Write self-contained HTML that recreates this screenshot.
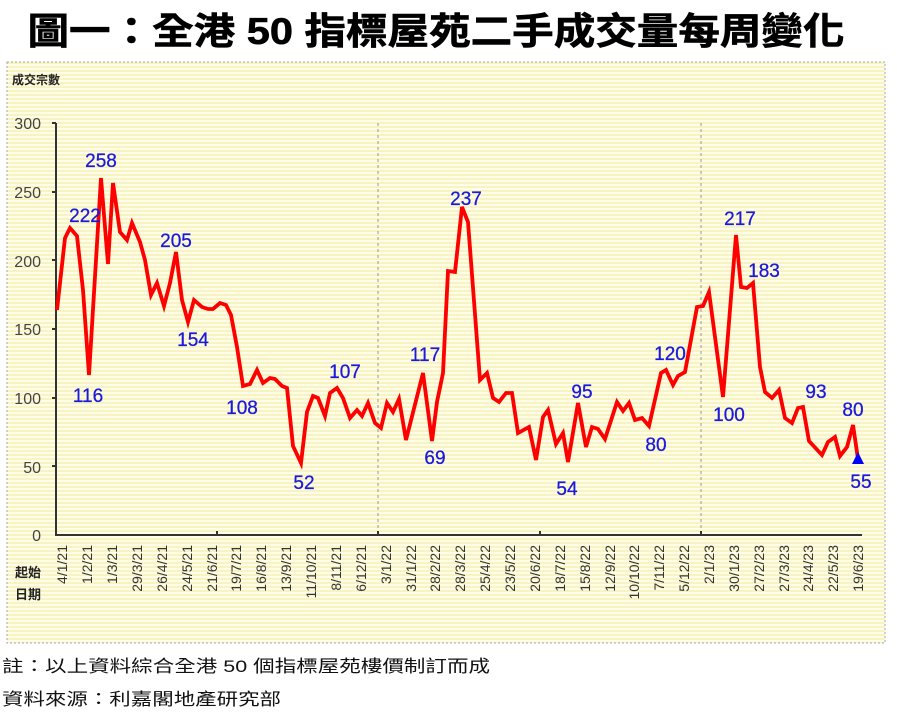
<!DOCTYPE html>
<html><head><meta charset="utf-8"><style>
html,body{margin:0;padding:0;background:#fff;width:897px;height:714px;overflow:hidden}
</style></head><body>
<svg width="897" height="714" viewBox="0 0 897 714" xmlns="http://www.w3.org/2000/svg" font-family="Liberation Sans, 'Noto Sans CJK TC', sans-serif">
<defs>
<pattern id="st" width="4" height="4" patternUnits="userSpaceOnUse">
<rect width="4" height="4" fill="#fffde8"/><rect y="2" width="4" height="2" fill="#f8f3c2"/>
</pattern>
</defs>
<text x="436" y="44" text-anchor="middle" font-size="37" font-weight="bold" fill="#000" stroke="#000" stroke-width="0.6" textLength="817" lengthAdjust="spacingAndGlyphs">圖一：全港 50 指標屋苑二手成交量每周變化</text>
<rect x="7" y="62" width="878" height="581" fill="url(#st)" stroke="#aaa" stroke-dasharray="2,2"/>
<text x="12" y="84" font-size="12" font-weight="bold" fill="#222">成交宗數</text>
<g font-size="16" fill="#444" text-anchor="end">
<text x="41" y="129">300</text><text x="41" y="198">250</text><text x="41" y="267">200</text>
<text x="41" y="335">150</text><text x="41" y="404">100</text><text x="41" y="473">50</text><text x="41" y="541">0</text>
</g>
<g stroke="#999" stroke-dasharray="3,3" stroke-width="1"><line x1="378" y1="123" x2="378" y2="535"/><line x1="701" y1="123" x2="701" y2="535"/></g>
<g stroke="#333" stroke-width="2">
<line x1="56" y1="123" x2="56" y2="536"/><line x1="55" y1="535" x2="862" y2="535"/>
<line x1="52" y1="123" x2="56" y2="123"/><line x1="52" y1="192" x2="56" y2="192"/><line x1="52" y1="260" x2="56" y2="260"/><line x1="52" y1="329" x2="56" y2="329"/><line x1="52" y1="398" x2="56" y2="398"/><line x1="52" y1="466" x2="56" y2="466"/>
<line x1="217" y1="531" x2="217" y2="535"/><line x1="378" y1="531" x2="378" y2="535"/><line x1="540" y1="531" x2="540" y2="535"/><line x1="701" y1="531" x2="701" y2="535"/>
</g>
<polyline fill="none" stroke="#f00" stroke-width="3.8" stroke-linejoin="miter" points="57,310 65,238 70,228 77,236 83,290 89,375 101,178 108,264 113,183 120,232 127,240 132,223 140,242 145,260 151,295 157,283 164,306 170,283 176,252 182,300 188,322 194,300 202,307 208,309 213,309 220,303 226,305 231,315 237,347 243,386 250,384 257,370 263,383 270,378 275,379 282,386 287,388 293,446 301,463 307,412 313,396 318,398 325,416 330,393 337,388 343,398 350,418 357,410 362,416 368,403 375,423 381,428 387,403 393,412 399,399 406,440 423,373 432,441 437,402 443,373 448,271 455,272 462,207 468,222 480,380 487,373 493,398 499,402 506,393 512,393 518,433 529,427 536,460 543,417 548,410 556,444 563,433 568,462 578,403 586,447 592,427 598,429 605,439 617,402 623,411 629,403 635,420 642,418 649,426 661,373 666,370 673,385 678,376 685,372 697,307 703,306 709,292 723,397 736,235 741,287 747,288 753,283 760,367 765,392 772,398 779,390 785,418 792,423 798,408 803,407 809,441 822,455 828,442 835,437 840,456 847,447 853,425 858,459"/>
<polygon points="858,452 852,464 864,464" fill="#00f"/>
<g font-size="19" fill="#1a1add" text-anchor="middle" stroke="#1a1add" stroke-width="0.3">
<text x="85" y="222">222</text><text x="101" y="167">258</text><text x="88" y="402">116</text>
<text x="176" y="247">205</text><text x="193" y="346">154</text><text x="242" y="414">108</text>
<text x="304" y="489">52</text><text x="345" y="378">107</text><text x="425" y="361">117</text>
<text x="435" y="464">69</text><text x="466" y="205">237</text><text x="567" y="495">54</text>
<text x="582" y="398">95</text><text x="656" y="451">80</text><text x="670" y="360">120</text>
<text x="729" y="421">100</text><text x="740" y="225">217</text><text x="764" y="277">183</text>
<text x="816" y="398">93</text><text x="853" y="416">80</text><text x="861" y="488">55</text>
</g>
<g font-size="13" font-weight="bold" fill="#222" text-anchor="middle"><text x="28" y="577">起始</text><text x="28" y="599">日期</text></g>
<g font-size="14" fill="#333" text-anchor="end">
<text transform="translate(67,545) rotate(-90)">4/1/21</text>
<text transform="translate(92,545) rotate(-90)">1/2/21</text>
<text transform="translate(117,545) rotate(-90)">1/3/21</text>
<text transform="translate(142,545) rotate(-90)">29/3/21</text>
<text transform="translate(167,545) rotate(-90)">26/4/21</text>
<text transform="translate(192,545) rotate(-90)">24/5/21</text>
<text transform="translate(217,545) rotate(-90)">21/6/21</text>
<text transform="translate(241,545) rotate(-90)">19/7/21</text>
<text transform="translate(266,545) rotate(-90)">16/8/21</text>
<text transform="translate(291,545) rotate(-90)">13/9/21</text>
<text transform="translate(316,545) rotate(-90)">11/10/21</text>
<text transform="translate(341,545) rotate(-90)">8/11/21</text>
<text transform="translate(366,545) rotate(-90)">6/12/21</text>
<text transform="translate(391,545) rotate(-90)">3/1/22</text>
<text transform="translate(416,545) rotate(-90)">31/1/22</text>
<text transform="translate(440,545) rotate(-90)">28/2/22</text>
<text transform="translate(465,545) rotate(-90)">28/3/22</text>
<text transform="translate(490,545) rotate(-90)">25/4/22</text>
<text transform="translate(515,545) rotate(-90)">23/5/22</text>
<text transform="translate(540,545) rotate(-90)">20/6/22</text>
<text transform="translate(565,545) rotate(-90)">18/7/22</text>
<text transform="translate(590,545) rotate(-90)">15/8/22</text>
<text transform="translate(615,545) rotate(-90)">12/9/22</text>
<text transform="translate(639,545) rotate(-90)">10/10/22</text>
<text transform="translate(664,545) rotate(-90)">7/11/22</text>
<text transform="translate(689,545) rotate(-90)">5/12/22</text>
<text transform="translate(714,545) rotate(-90)">2/1/23</text>
<text transform="translate(739,545) rotate(-90)">30/1/23</text>
<text transform="translate(764,545) rotate(-90)">27/2/23</text>
<text transform="translate(789,545) rotate(-90)">27/3/23</text>
<text transform="translate(813,545) rotate(-90)">24/4/23</text>
<text transform="translate(838,545) rotate(-90)">22/5/23</text>
<text transform="translate(863,545) rotate(-90)">19/6/23</text>
</g>
<g font-size="17" fill="#111">
<text x="2" y="672" textLength="488" lengthAdjust="spacingAndGlyphs">註：以上資料綜合全港 50 個指標屋苑樓價制訂而成</text>
<text x="2" y="705" textLength="279" lengthAdjust="spacingAndGlyphs">資料來源：利嘉閣地產研究部</text>
</g>
</svg>
</body></html>
